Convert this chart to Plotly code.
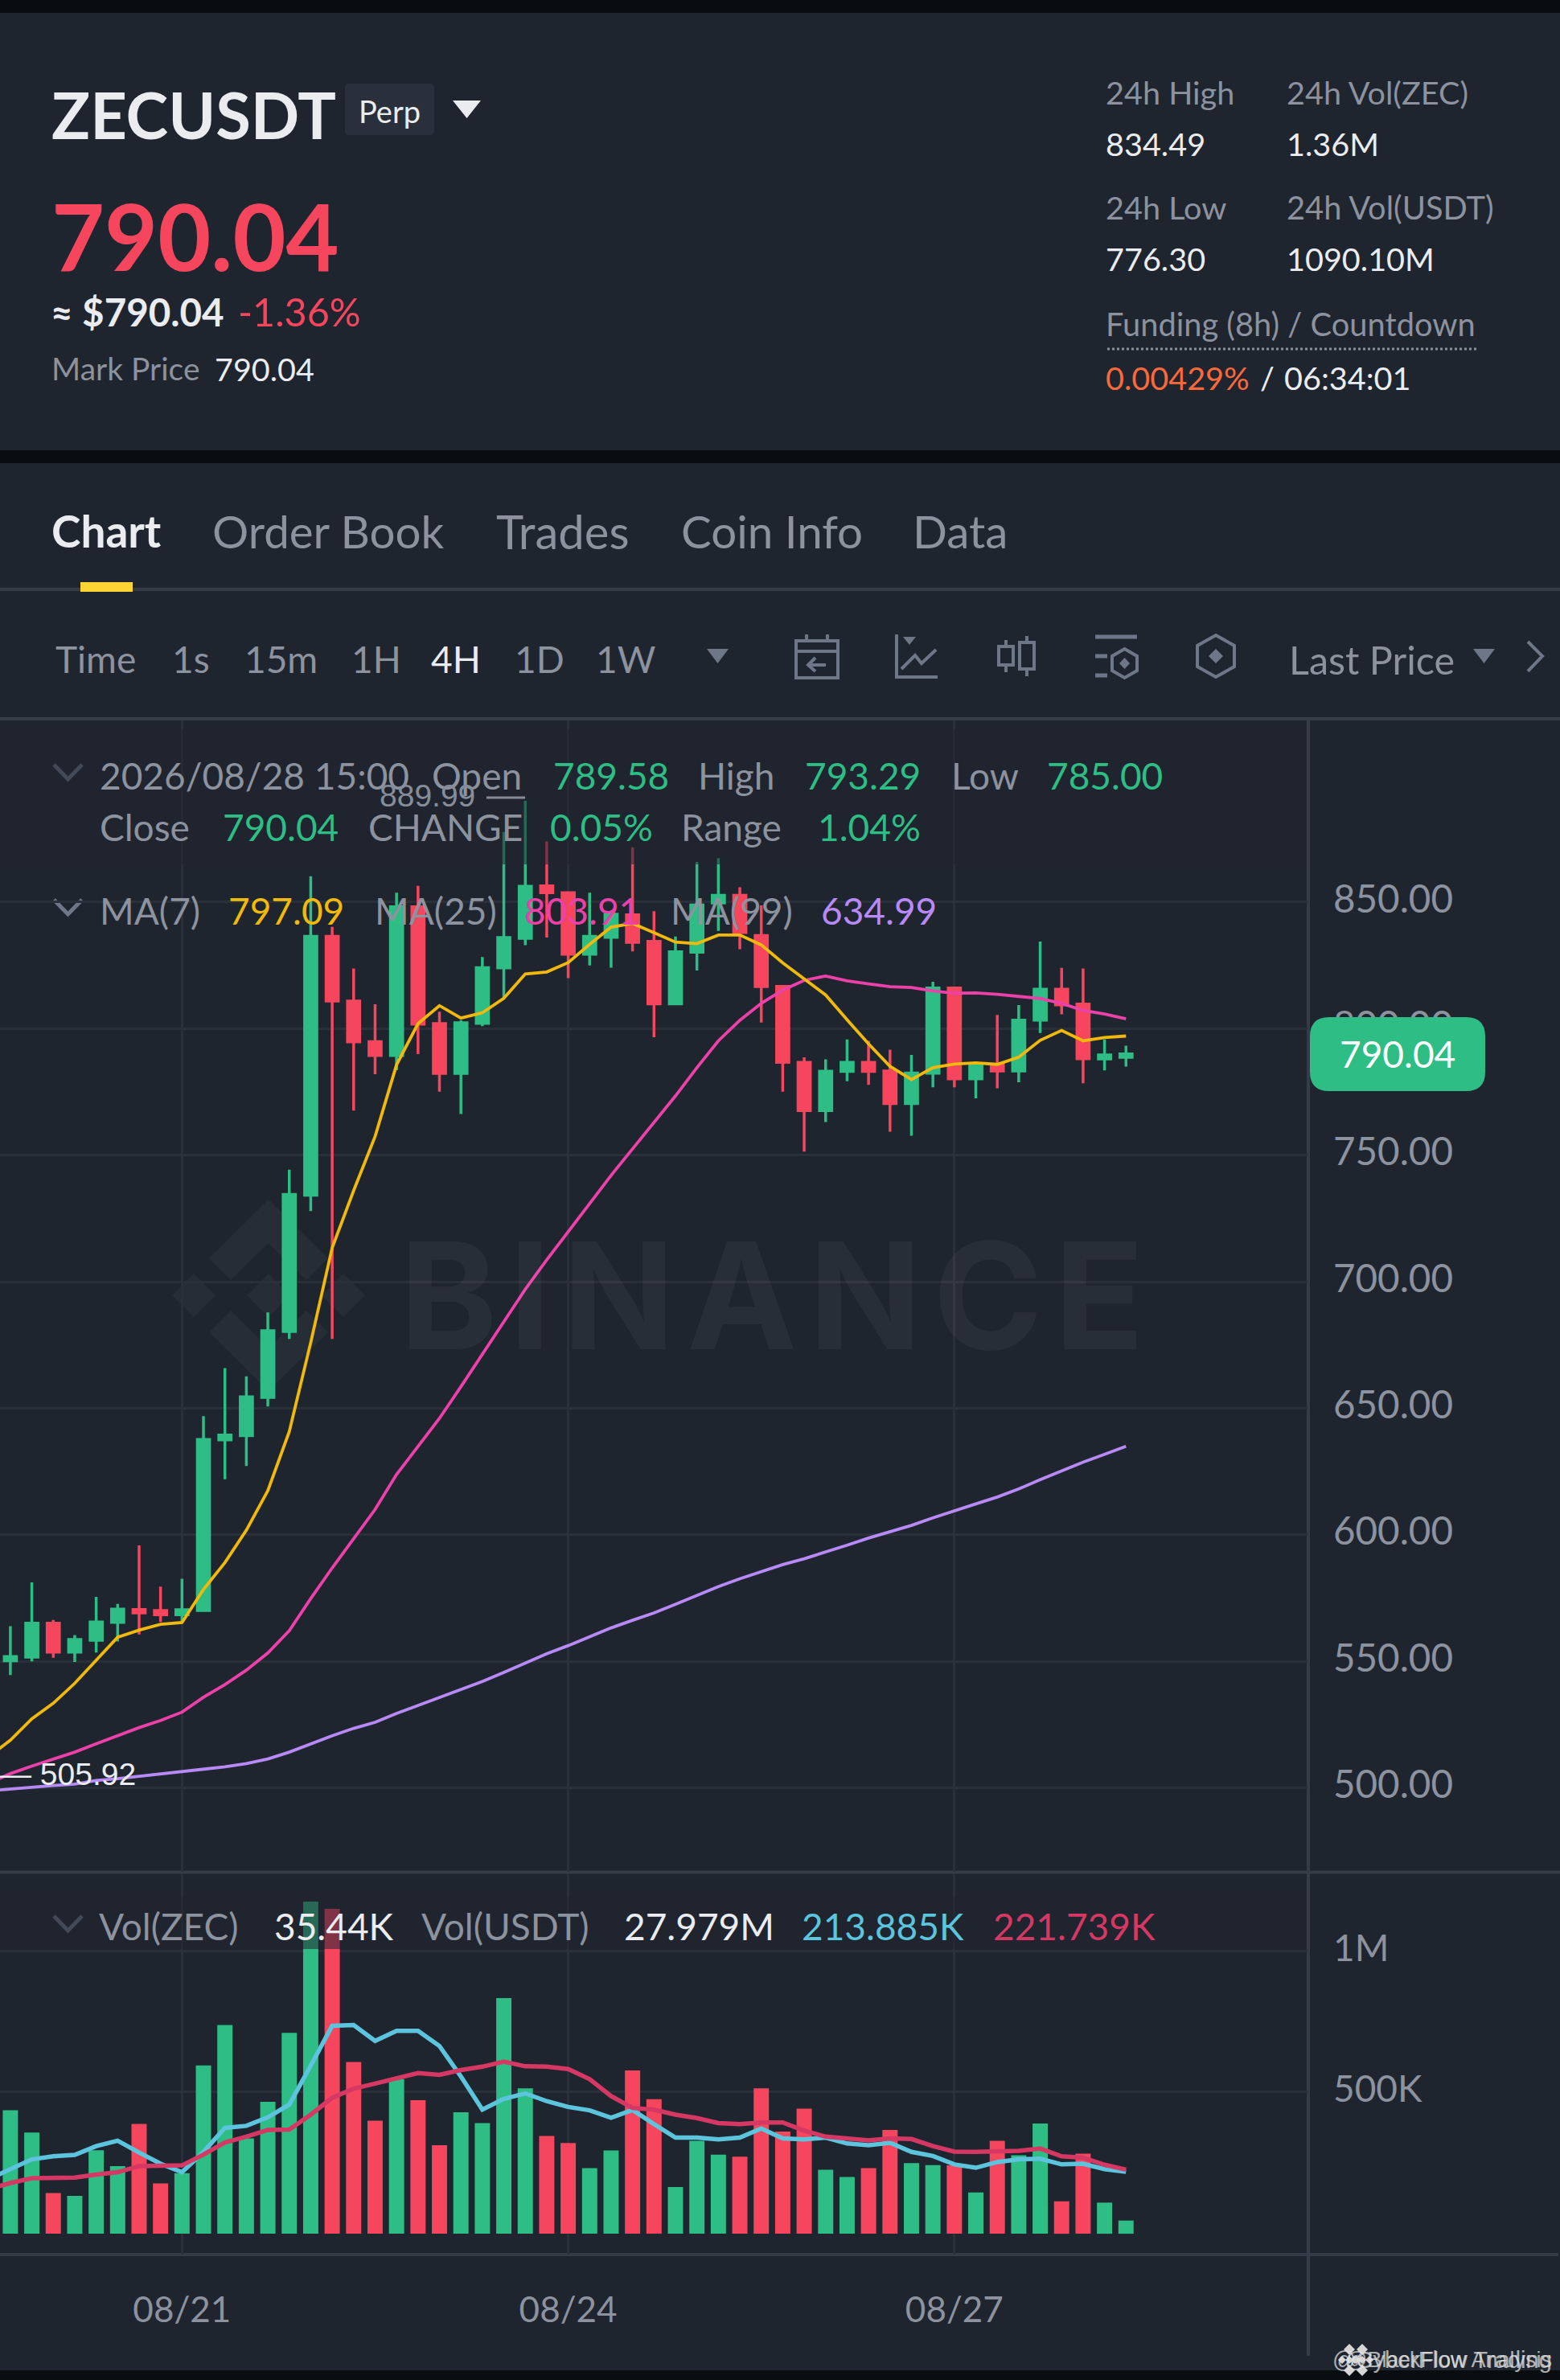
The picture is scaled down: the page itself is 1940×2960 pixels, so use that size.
import pandas as pd
import plotly.graph_objects as go
from plotly.subplots import make_subplots

W, H = 1940, 2960

# 4h candles
open_ = [550.2, 551.6, 565.1, 553.6, 558.3, 565.4, 570.5, 570.1, 568.4, 570.1, 637.5, 639.2, 654.3, 680.3,
         734.2, 836.5, 810.9, 794.9, 789.4, 848.2, 802.0, 782.3, 802.1, 824.0, 835.7, 856.4, 853.7, 829.4,
         836.1, 845.0, 834.5, 809.8, 830.2, 849.7, 852.7, 836.8, 816.7, 786.7, 767.6, 783.1, 786.7, 783.3,
         770.4, 782.4, 816.1, 780.2, 785.7, 783.3, 803.4, 815.6, 809.7, 788.0, 788.7]
high = [563.9, 581.2, 566.3, 560.4, 575.5, 572.7, 595.8, 579.5, 582.6, 646.9, 665.9, 662.6, 687.9, 744.3,
        860.2, 840.2, 823.8, 809.6, 853.7, 856.4, 806.7, 803.3, 828.3, 877.7, 889.99, 874.0, 854.2, 853.7,
        846.0, 871.7, 846.4, 836.4, 865.9, 867.4, 855.9, 848.7, 817.2, 788.7, 787.9, 795.7, 795.2, 791.7,
        789.6, 818.5, 816.6, 786.8, 805.4, 809.3, 834.4, 824.0, 823.8, 795.7, 793.29]
low = [544.6, 550.0, 551.4, 549.7, 553.5, 557.8, 560.6, 565.5, 565.6, 569.6, 621.9, 627.2, 650.7, 677.4,
       727.9, 677.4, 767.6, 782.0, 783.6, 789.9, 775.1, 766.3, 801.0, 812.0, 833.0, 836.0, 820.0, 825.0,
       824.1, 830.5, 796.6, 809.3, 823.0, 838.6, 831.4, 802.4, 775.1, 751.4, 763.1, 779.2, 777.8, 759.3,
       757.7, 776.8, 776.8, 772.5, 776.4, 778.8, 798.3, 805.7, 778.4, 783.5, 785.0]
close = [551.9, 565.1, 553.6, 558.6, 565.5, 570.6, 569.1, 568.4, 570.4, 637.7, 639.4, 654.5, 680.6, 734.5,
         836.5, 810.9, 794.8, 789.4, 848.2, 801.8, 782.3, 802.3, 824.1, 836.0, 856.3, 853.7, 829.4, 836.5,
         845.2, 834.1, 809.8, 830.4, 848.9, 852.7, 838.0, 816.6, 786.7, 767.6, 783.2, 786.7, 783.1, 770.4,
         782.5, 816.1, 780.2, 785.6, 783.3, 803.4, 815.6, 809.4, 788.1, 789.6, 790.04]
volume = [432.7, 353.4, 138.3, 128.6, 290.8, 234.3, 384.6, 173.1, 209.1, 592.5, 735.5, 332.9, 462.7, 707.9,
          1174, 1148.8, 604.5, 395.4, 543.3, 468.8, 308.9, 425.4, 387.0, 831.7, 510.8, 341.3, 316.1, 227.2,
          289.7, 574.5, 472.4, 159.9, 324.5, 275.2, 268.0, 510.8, 357.0, 438.8, 221.2, 196.0, 227.2, 363.0,
          245.2, 238.0, 236.8, 140.6, 324.5, 272.8, 385.8, 109.4, 278.8, 104.6, 40.9]

# moving averages start one candle earlier, off the left edge
ma7 = [512.4, 518.8, 527.3, 533.4, 541.3, 550.4, 559.5, 562.3, 564.6, 565.3, 578.4, 589.0, 601.8, 617.4,
       640.8, 676.0, 713.4, 736.0, 757.4, 785.7, 802.0, 809.1, 804.2, 806.3, 812.0, 821.6, 822.4, 826.1,
       833.3, 840.1, 841.6, 837.9, 834.2, 833.6, 837.0, 837.0, 833.1, 826.0, 819.7, 813.3, 803.5, 794.0,
       785.1, 779.9, 784.6, 786.0, 786.5, 785.9, 788.7, 795.4, 799.3, 795.2, 796.5, 797.09]
ma25 = [501.8, 505.6, 508.6, 511.3, 514.1, 517.4, 520.6, 523.8, 526.6, 529.9, 535.8, 540.8, 546.5, 553.3,
        562.1, 574.8, 586.9, 598.2, 610.0, 623.8, 635.1, 646.0, 658.5, 671.3, 684.0, 697.0, 708.6, 719.8,
        731.0, 742.0, 752.5, 763.0, 773.4, 784.6, 795.2, 803.3, 810.0, 815.2, 819.1, 820.8, 818.9, 817.7,
        816.6, 816.3, 814.9, 814.0, 814.1, 813.6, 812.9, 811.9, 810.0, 807.2, 805.8, 803.91]
ma99 = [498.8, 499.6, 500.4, 500.9, 501.5, 502.9, 503.6, 504.5, 505.3, 506.2, 507.2, 508.3, 509.6, 511.4,
        514.1, 517.5, 520.6, 523.5, 525.9, 529.4, 532.6, 535.5, 538.8, 542.0, 545.6, 549.3, 553.0, 556.2,
        559.8, 563.2, 566.2, 569.1, 572.5, 576.0, 579.5, 582.6, 585.5, 588.2, 590.5, 593.1, 595.9, 598.7,
        601.3, 603.7, 606.7, 609.3, 612.2, 614.9, 618.1, 621.8, 625.4, 628.7, 631.8, 634.99]
vol_ma10 = [188.7, 224.8, 258.4, 269.2, 274.1, 305.3, 324.5, 282.5, 242.8, 212.7, 284.9, 370.2, 377.4, 407.5,
            453.1, 591.4, 733.2, 735.6, 679.1, 715.2, 715.2, 661.1, 552.9, 435.1, 473.6, 492.8, 465.1, 444.7,
            432.7, 406.3, 433.9, 383.4, 335.4, 335.4, 329.3, 335.4, 367.8, 332.9, 329.3, 335.4, 314.9, 308.9,
            317.3, 284.9, 270.4, 240.4, 228.4, 248.8, 258.4, 260.8, 240.4, 242.8, 223.6, 213.9]
vol_ma20 = [153.0, 174.3, 191.2, 192.4, 193.5, 204.3, 212.7, 234.4, 234.4, 236.8, 275.3, 318.5, 339.0, 363.0,
            364.2, 417.1, 477.2, 509.6, 527.6, 545.7, 564.9, 558.9, 575.7, 587.7, 605.8, 589.0, 587.7, 579.3,
            543.3, 483.2, 441.0, 435.1, 417.1, 405.0, 387.0, 383.4, 389.4, 389.4, 360.6, 339.0, 330.6, 325.8,
            333.0, 330.6, 305.3, 286.0, 284.9, 284.9, 288.5, 296.9, 269.2, 264.4, 239.2, 221.7]

price_ticks = [500, 550, 600, 650, 700, 750, 800, 850]
vol_ticks = [500, 1000]
vol_tick_labels = ["500K", "1M"]
date_ticks = ["2026-08-21 00:00", "2026-08-24 00:00", "2026-08-27 00:00"]
date_labels = ["08/21", "08/24", "08/27"]

BG = "#1F252F"
BLACK = "#0A0D10"
LINE = "#353B47"
GRID = "#2A303A"
GRAY = "#8C929E"
ICON = "#6E7787"
WHITE = "#EAECEF"
GREEN = "#2EBD85"
RED = "#F6465D"
YELLOW = "#F0B90B"
PINK = "#EC41A9"
PURPLE = "#B78AF7"
VOL_BLUE = "#5CC4DC"
VOL_RED = "#D63864"
FONT = "Lato"

times = pd.date_range("2026-08-19 16:00", periods=len(close), freq="4h")
ma_times = pd.date_range("2026-08-19 12:00", periods=len(ma7), freq="4h")
step = pd.Timedelta(hours=4)
x_range = [times[0] - 0.4835 * step, times[0] + 60.46 * step]
bar_colors = [GREEN if c >= o else RED for o, c in zip(open_, close)]


def fx(x):
    return x / W


def fy(y):
    return 1 - y / H


fig = make_subplots(rows=2, cols=1, shared_xaxes=True)

fig.add_trace(go.Candlestick(
    x=times, open=open_, high=high, low=low, close=close,
    increasing=dict(line=dict(color=GREEN, width=3.5), fillcolor=GREEN),
    decreasing=dict(line=dict(color=RED, width=3.5), fillcolor=RED),
    whiskerwidth=0,
), row=1, col=1)
for values, color in [(ma99, PURPLE), (ma25, PINK), (ma7, YELLOW)]:
    fig.add_trace(go.Scatter(x=ma_times, y=values, mode="lines",
                             line=dict(color=color, width=3.8)), row=1, col=1)

# bars sit a hair below the zero of the axis in the original
fig.add_trace(go.Bar(x=times, y=[v + 6 for v in volume], base=-6, marker=dict(color=bar_colors, line_width=0)),
              row=2, col=1)
fig.add_trace(go.Scatter(x=ma_times, y=vol_ma10, mode="lines", line=dict(color=VOL_BLUE, width=5.5)), row=2, col=1)
fig.add_trace(go.Scatter(x=ma_times, y=vol_ma20, mode="lines", line=dict(color=VOL_RED, width=5.5)), row=2, col=1)

shapes = []
annotations = []


def label(x, y, text, color=GRAY, size=46, anchor="left", weight="normal", family=FONT):
    annotations.append(dict(
        x=fx(x), y=fy(y), xref="paper", yref="paper", text=text, showarrow=False,
        xanchor=anchor, yanchor="middle", borderpad=0, borderwidth=0,
        font=dict(family=family, size=size, color=color, weight=weight),
    ))


def rect(x0, y0, x1, y1, color, layer="below"):
    shapes.append(dict(type="rect", xref="paper", yref="paper", x0=fx(x0), x1=fx(x1), y0=fy(y0), y1=fy(y1),
                       fillcolor=color, line_width=0, layer=layer))


def seg(x0, y0, x1, y1, color=LINE, width=4, dash="solid", layer="below"):
    shapes.append(dict(type="line", xref="paper", yref="paper", x0=fx(x0), x1=fx(x1), y0=fy(y0), y1=fy(y1),
                       line=dict(color=color, width=width, dash=dash), layer=layer))


def poly(points, fill=None, stroke=None, width=4, closed=True, layer="below"):
    path = "M " + " L ".join(f"{fx(x):.5f} {fy(y):.5f}" for x, y in points)
    if closed:
        path += " Z"
    shapes.append(dict(type="path", xref="paper", yref="paper", path=path, layer=layer,
                       fillcolor=fill if fill else "rgba(0,0,0,0)",
                       line=dict(color=stroke if stroke else "rgba(0,0,0,0)", width=width if stroke else 0)))


def rounded(x0, y0, x1, y1, r, color, layer="below"):
    pts = [("M", x0 + r, y0), ("L", x1 - r, y0), ("Q", x1, y0, x1, y0 + r), ("L", x1, y1 - r),
           ("Q", x1, y1, x1 - r, y1), ("L", x0 + r, y1), ("Q", x0, y1, x0, y1 - r), ("L", x0, y0 + r),
           ("Q", x0, y0, x0 + r, y0)]
    path = ""
    for p in pts:
        coords = p[1:]
        path += p[0] + " " + " ".join(f"{fx(c) if k % 2 == 0 else fy(c):.5f}" for k, c in enumerate(coords)) + " "
    shapes.append(dict(type="path", xref="paper", yref="paper", path=path + "Z", fillcolor=color, line_width=0,
                       layer=layer))


def chevron(x0, x1, y0, y1):
    poly([(x0, y0), ((x0 + x1) / 2, y1), (x1, y0)], stroke=ICON, width=5, closed=False)


# frame
rect(0, 0, W, 16, BLACK)
rect(0, 560, W, 576, BLACK)
rect(0, 2948, W, H, BLACK)
seg(0, 733, W, 733)
seg(0, 894, W, 894)
seg(0, 2328.6, W, 2328.6)
seg(0, 2804, 1938, 2804)
seg(1627, 894, 1627, 2930)
rect(100, 724, 165, 736, "#FCD535", layer="above")

# header block
label(64, 143, "ZECUSDT", "#EAECEF", 79.5, weight="bold")
rounded(429, 104, 540, 168, 6, "#2A303B")
label(484.5, 138, "Perp", WHITE, 38, anchor="center")
poly([(563, 125), (598, 125), (580.5, 147)], fill=WHITE)
label(64, 292, "790.04", RED, 114, weight="bold")
label(63, 387, "≈ $790.04", WHITE, 47.5, weight="bold")
label(296, 387, "-1.36%", RED, 48.5)
label(64, 458, "Mark Price", GRAY, 39)
label(267, 458, "790.04", WHITE, 39.5)
label(1375, 115, "24h High", GRAY, 39.6)
label(1600, 115, "24h Vol(ZEC)", GRAY, 39.6)
label(1375, 178, "834.49", WHITE, 39.6)
label(1600, 178, "1.36M", WHITE, 39.6)
label(1375, 258, "24h Low", GRAY, 39.6)
label(1600, 258, "24h Vol(USDT)", GRAY, 39.8)
label(1375, 322, "776.30", WHITE, 39.6)
label(1600, 322, "1090.10M", WHITE, 39.6)
label(1375, 403, "Funding (8h) / Countdown", GRAY, 39.8)
seg(1377, 434, 1836, 434, GRAY, 3, "dot")
label(1375, 470, "0.00429%", "#F9693C", 39.6)
label(1567, 470, "/", WHITE, 39.6)
label(1597, 470, "06:34:01", WHITE, 39.6)

# tabs
label(64, 660, "Chart", WHITE, 55, weight="bold")
label(264, 660, "Order Book", GRAY, 56.5)
label(617, 660, "Trades", GRAY, 58)
label(847, 660, "Coin Info", GRAY, 56.5)
label(1135, 660, "Data", GRAY, 56.5)

# interval toolbar
for x, text, color in [(69, "Time", GRAY), (214, "1s", GRAY), (304, "15m", GRAY), (437, "1H", GRAY),
                       (536, "4H", WHITE), (640, "1D", GRAY), (741, "1W", GRAY)]:
    label(x, 820, text, color, 46)
label(1603, 820, "Last Price", GRAY, 48.5)
poly([(879, 807), (906, 807), (892.5, 825)], fill=ICON)
poly([(1832, 807), (1859, 807), (1845.5, 825)], fill=ICON)
poly([(1900, 798), (1918, 816), (1900, 835)], stroke=ICON, closed=False)

# calendar icon
poly([(990, 797), (1042, 797), (1042, 843), (990, 843)], stroke=ICON)
seg(990, 810, 1042, 810, ICON)
seg(1003, 789, 1003, 797, ICON)
seg(1029, 789, 1029, 797, ICON)
seg(1007, 827, 1027, 827, ICON)
poly([(1014, 818), (1005, 827), (1014, 835)], stroke=ICON, closed=False)
# line chart icon
poly([(1115, 789), (1115, 842), (1166, 842)], stroke=ICON, closed=False)
poly([(1123, 792), (1139, 792), (1131, 802)], fill=ICON)
poly([(1121, 832), (1138, 815), (1146, 825), (1164, 808)], stroke=ICON, closed=False)
# candles icon
poly([(1242, 804), (1260, 804), (1260, 827), (1242, 827)], stroke=ICON)
seg(1251, 796, 1251, 804, ICON)
seg(1251, 827, 1251, 836, ICON)
poly([(1268, 799), (1286, 799), (1286, 832), (1268, 832)], stroke=ICON)
seg(1277, 791, 1277, 799, ICON)
seg(1277, 832, 1277, 841, ICON)
# settings icon
seg(1362, 792, 1414, 792, ICON, 5)
seg(1362, 816, 1377, 816, ICON, 5)
seg(1362, 840, 1377, 840, ICON, 5)
poly([(1398.5, 807), (1414, 816), (1414, 834), (1398.5, 843), (1383, 834), (1383, 816)], stroke=ICON)
poly([(1398.5, 818), (1405, 825), (1398.5, 832), (1392, 825)], fill=ICON)
# hexagon icon
poly([(1512, 790), (1535, 803), (1535, 829), (1512, 842), (1489, 829), (1489, 803)], stroke=ICON)
poly([(1512, 807), (1521, 816), (1512, 825), (1503, 816)], fill=ICON)

# watermark behind the candles
MARK = "#272D37"
poly([(334, 1492), (408, 1565), (381, 1592), (334, 1546), (287, 1592), (260, 1565)], fill=MARK)
poly([(334, 1730), (408, 1657), (381, 1630), (334, 1676), (287, 1630), (260, 1657)], fill=MARK)
for cx in [241, 334, 427]:
    poly([(cx, 1584), (cx + 27, 1611), (cx, 1638), (cx - 27, 1611)], fill=MARK)
label(497, 1611, "B\u200aI\u200aN\u200aA\u200aN\u200aC\u200aE", "rgba(255,255,255,0.045)", 184, weight="bold",
      family="Inter")

# legends fade what runs under them
rect(0, 907, 1625, 1075, "rgba(31,37,47,0.55)", layer="above")
rect(0, 2359, 1625, 2424, "rgba(31,37,47,0.55)", layer="above")

chevron(67, 102, 951, 969)
for x, text, color in [(124, "2026/08/28 15:00", GRAY), (537, "Open", GRAY), (688, "789.58", GREEN),
                       (868, "High", GRAY), (1001, "793.29", GREEN), (1183, "Low", GRAY), (1302, "785.00", GREEN)]:
    label(x, 964.5, text, color)
for x, text, color in [(124, "Close", GRAY), (277, "790.04", GREEN), (458, "CHANGE", GRAY), (684, "0.05%", GREEN),
                       (847, "Range", GRAY), (1017, "1.04%", GREEN)]:
    label(x, 1028, text, color)
chevron(67, 102, 1119, 1137)
for x, text, color in [(124, "MA(7)", GRAY), (284, "797.09", YELLOW), (466, "MA(25)", GRAY), (652, "803.91", PINK),
                       (834, "MA(99)", GRAY), (1021, "634.99", PURPLE)]:
    label(x, 1132, text, color)
chevron(67, 102, 2383, 2401)
for x, text, color in [(123, "Vol(ZEC)", GRAY), (341, "35.44K", WHITE), (524, "Vol(USDT)", GRAY),
                       (776, "27.979M", WHITE), (997, "213.885K", VOL_BLUE), (1235, "221.739K", VOL_RED)]:
    label(x, 2395, text, color)

label(472, 989, "889.99", "#868D99", 39, family="Liberation Sans")
seg(605, 992, 653, 992, "#868D99", 3, layer="above")
label(0, 2206, "— 505.92", WHITE, 39, family="Liberation Sans")

# last price tag covers the 800.00 tick
rounded(1629, 1265, 1847, 1357, 24, GREEN, layer="above")
label(1738, 1310, "790.04", "#FFFFFF", 46, anchor="center")

# corner marks
for cx in [1678, 1694]:
    for dx, dy, r in [(0, -13, 7), (0, 13, 7), (-9, 0, 5), (9, 0, 5), (0, 0, 5)]:
        poly([(cx + dx, 2935 + dy - r), (cx + dx + r, 2935 + dy), (cx + dx, 2935 + dy + r), (cx + dx - r, 2935 + dy)],
             fill="#D5D5D5")
label(1930, 2935, "@CyberFlow Trading", "rgba(225,225,225,0.75)", 29, anchor="right", family="Liberation Sans")
label(1930, 2935, "@BlackFlow Analysis", "rgba(225,225,225,0.75)", 27, anchor="right", family="Liberation Sans")

price_font = dict(family=FONT, size=47.5, color=GRAY)
axis_font = dict(family=FONT, size=46, color=GRAY)
fig.update_layout(
    width=W, height=H, autosize=False,
    margin=dict(l=0, r=0, t=0, b=0, pad=0),
    paper_bgcolor=BG, plot_bgcolor="rgba(0,0,0,0)",
    showlegend=False, boxgap=0.43, boxgroupgap=0, bargap=0.29,
    shapes=shapes, annotations=annotations,
    xaxis=dict(domain=[0, 1626 / W], range=x_range, type="date", rangeslider_visible=False, showticklabels=False,
               tickvals=date_ticks, gridcolor=GRID, gridwidth=3, zeroline=False, showline=False, ticks=""),
    xaxis2=dict(domain=[0, 1626 / W], range=x_range, type="date", tickvals=date_ticks, ticktext=date_labels,
                gridcolor=GRID, gridwidth=3, zeroline=False, showline=False, ticks="",
                tickfont=dict(family=FONT, size=44, color=GRAY), ticklabelstandoff=39, matches="x"),
    yaxis=dict(domain=[fy(2328), fy(896)], range=[466.8, 921.8], side="right", tickvals=price_ticks,
               tickformat=".2f", gridcolor=GRID, gridwidth=3, zeroline=False, showline=False, ticks="",
               tickfont=price_font, ticklabelstandoff=31, ticklabelshift=-4),
    yaxis2=dict(domain=[fy(2804), fy(2330)], range=[-80, 1274.3], side="right", tickvals=vol_ticks,
                ticktext=vol_tick_labels, gridcolor=GRID, gridwidth=3, zeroline=False, showline=False, ticks="",
                tickfont=axis_font, ticklabelstandoff=31, ticklabelshift=-3),
)

fig.write_html("out.html", config={"displayModeBar": False},
               post_script="document.body.style.margin='0';document.body.style.overflow='hidden';")
